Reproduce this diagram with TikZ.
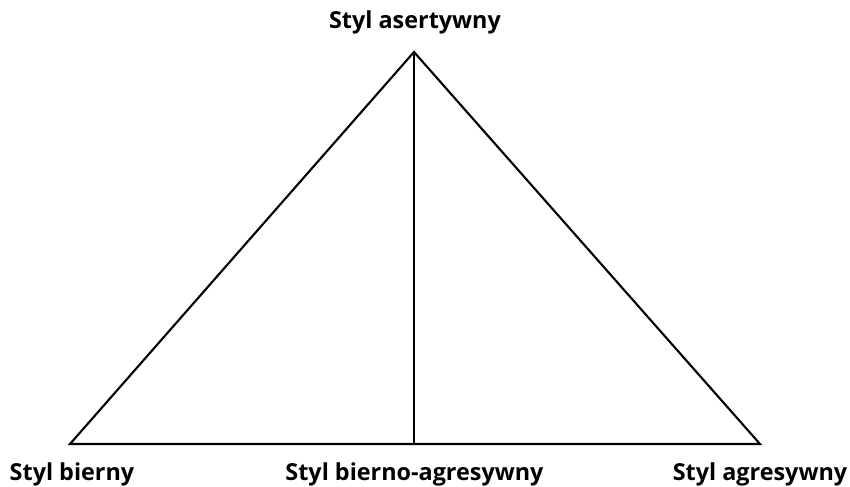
\documentclass[tikz,border=0pt]{standalone}
\usepackage{fontspec}
\setmainfont{Open Sans}
\usepackage{tikz}
\usetikzlibrary{positioning,calc}
\tikzset{
  lbl/.style={font=\bfseries\fontsize{13.3}{15}\selectfont, inner sep=0pt, anchor=base},
  edge/.style={draw=black, line width=1.2pt, line join=miter},
}

\begin{document}
\begin{tikzpicture}
    \useasboundingbox (0,0) rectangle (17,9.72);
    % corners of the triangle
    \coordinate (top) at (8.28,8.68);
    \coordinate (bl) at (1.4,0.84);
    \coordinate (br) at (15.2,0.84);
    \coordinate (mid) at (8.28,0.84);
    \draw[edge] (bl) -- (top) -- (br) -- cycle;
    \draw[edge] (top) -- (mid);
    % labels
    \node[lbl] (asert) at (8.3,9.14) {Styl asertywny};
    \node[lbl] (bierny) at (1.44,0.12) {Styl bierny};
    \node[lbl] (biernoagr) at (8.29,0.12) {Styl bierno-agresywny};
    \node[lbl] (agr) at (15.2,0.12) {Styl agresywny};
  \end{tikzpicture}
\end{document}
